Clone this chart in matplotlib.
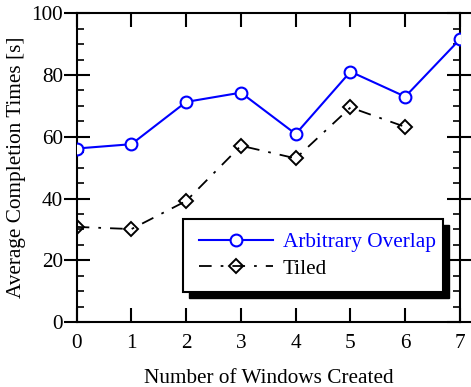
import matplotlib
matplotlib.use('Agg')
import matplotlib.pyplot as plt
from matplotlib.patches import Rectangle
from matplotlib.ticker import MultipleLocator

plt.rcParams['font.family'] = ['Liberation Serif', 'DejaVu Serif']
plt.rcParams['mathtext.fontset'] = 'stix'

# データ
windows = [0, 1, 2, 3, 4, 5, 6, 7]
overlap = [56.2, 57.6, 71.3, 74.3, 60.9, 81.1, 73.0, 91.6]
windows_tiled = [0, 1, 2, 3, 4, 5, 6]
tiled = [30.8, 30.1, 39.2, 57.1, 53.0, 69.5, 63.2]

fs = 15.3

fig = plt.figure(figsize=(4.71, 3.87), dpi=100)
ax = fig.add_axes([0.1628, 0.168, 0.8138, 0.7976])

ax.plot(windows, overlap, color='blue', lw=1.5, marker='o', ms=8.5,
        mfc='white', mec='blue', mew=1.5, label='Arbitrary Overlap', zorder=4)
ax.plot(windows_tiled, tiled, color='black', lw=1.3, ls=(0, (7, 5, 1.5, 5)),
        marker='D', ms=7.3, mfc='none', mec='black', mew=1.4, label='Tiled', zorder=3)

ax.set_xlim(0, 7)
ax.set_ylim(0, 100)
ax.xaxis.set_major_locator(MultipleLocator(1))
ax.yaxis.set_major_locator(MultipleLocator(20))
ax.yaxis.set_minor_locator(MultipleLocator(5))

for sp in ax.spines.values():
    sp.set_linewidth(1.5)

ax.tick_params(axis='x', which='major', direction='in', length=10, width=1.5,
               top=True, bottom=True, labelsize=fs, pad=9)
ax.tick_params(axis='y', which='major', direction='inout', length=19, width=1.5,
               left=True, right=True, labelsize=fs, pad=0.5)
ax.tick_params(axis='y', which='minor', direction='in', length=5, width=1.2,
               left=True, right=True)

ax.set_xlabel('Number of Windows Created', fontsize=fs, labelpad=11)
ax.set_ylabel('Average Completion Times [s]', fontsize=fs, labelpad=4)

# 凡例の枠と影
x0, y0, w, h = 0.277, 0.098, 0.679, 0.235
ax.add_patch(Rectangle((x0 + 0.015, y0 - 0.019), w, h, transform=ax.transAxes,
                       facecolor='black', edgecolor='black', zorder=5, clip_on=False))
ax.add_patch(Rectangle((x0, y0), w, h, transform=ax.transAxes,
                       facecolor='white', edgecolor='black', lw=1.5, zorder=6, clip_on=False))

leg = ax.legend(loc='center', bbox_to_anchor=(x0 + w / 2 + 0.011, y0 + h / 2), frameon=False,
                fontsize=fs, handlelength=3.5, handletextpad=0.45, labelspacing=0.3)
leg.set_zorder(7)
for txt, c in zip(leg.get_texts(), ['blue', 'black']):
    txt.set_color(c)

plt.savefig('out.png', dpi=100)
plt.close(fig)
